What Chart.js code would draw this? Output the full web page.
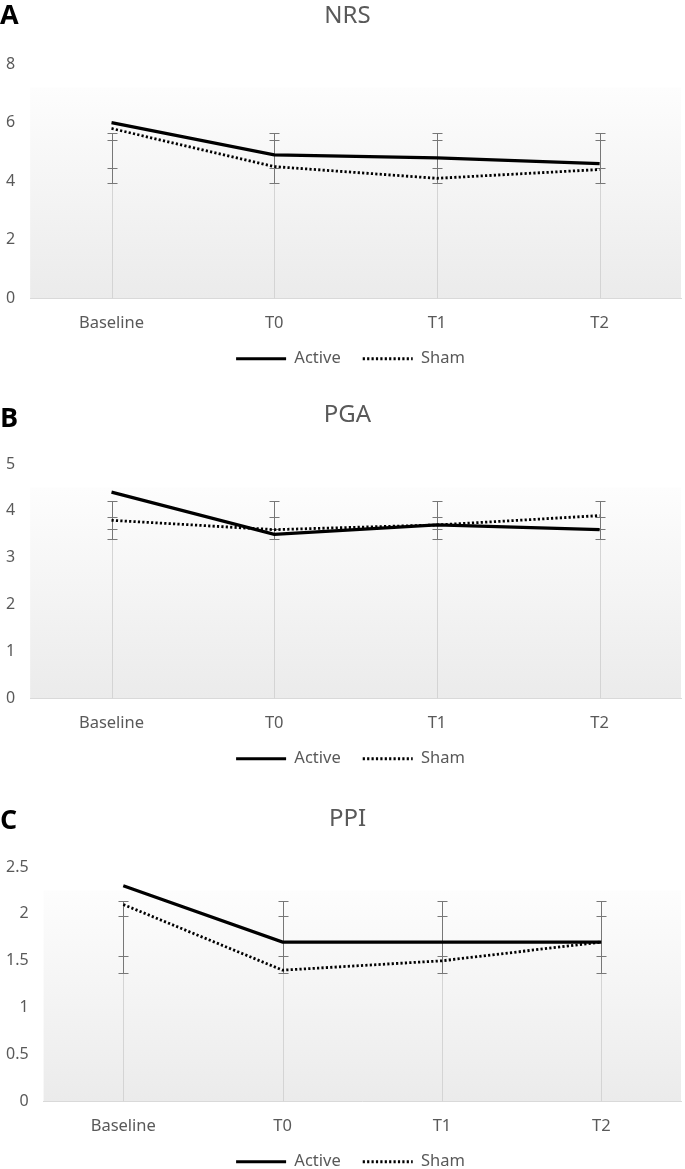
<!DOCTYPE html>
<html>
<head>
<meta charset="utf-8">
<title>NRS / PGA / PPI</title>
<script src="https://cdn.jsdelivr.net/npm/chart.js@4.4.1/dist/chart.umd.min.js"></script>
<style>
    html, body { margin: 0; padding: 0; background: #fff; overflow: hidden; }
    body { position: relative; width: 685px; height: 1169px; }
    .panel { position: absolute; left: 0; width: 685px; height: 381px; }
    .panel canvas { position: absolute; left: 0; top: 0; }
    .letter { position: absolute; left: 0; font: bold 27px "Open Sans", sans-serif; line-height: 1; color: #000; }
    .title { position: absolute; left: 5px; width: 685px; text-align: center; font: 24px "Noto Sans", sans-serif; line-height: 1; color: #595959; }
</style>
</head>
<body>
<div class="panel" style="top:0px">
    <canvas id="nrsChart" width="685" height="381"></canvas>
    <div class="letter" style="top:0px">A</div>
    <div class="title" style="top:2px">NRS</div>
</div>
<div class="panel" style="top:400px">
    <canvas id="pgaChart" width="685" height="381"></canvas>
    <div class="letter" style="top:3px">B</div>
    <div class="title" style="top:1px">PGA</div>
</div>
<div class="panel" style="top:803px">
    <canvas id="ppiChart" width="685" height="381"></canvas>
    <div class="letter" style="top:2px">C</div>
    <div class="title" style="top:2px">PPI</div>
</div>

<script>
// ---- data ----
const categories = ['Baseline', 'T0', 'T1', 'T2'];
const seriesNames = ['Active', 'Sham'];

// NRS
const nrsActive = [6.0, 4.9, 4.8, 4.6];
const nrsSham = [5.8, 4.5, 4.1, 4.4];
const nrsActiveRange = [3.95, 5.63];
const nrsShamRange = [4.44, 5.40];
const nrsTicks = [0, 2, 4, 6, 8];

// PGA
const pgaActive = [4.4, 3.5, 3.7, 3.6];
const pgaSham = [3.8, 3.6, 3.7, 3.9];
const pgaActiveRange = [3.40, 4.21];
const pgaShamRange = [3.62, 3.88];
const pgaTicks = [0, 1, 2, 3, 4, 5];

// PPI
const ppiActive = [2.3, 1.7, 1.7, 1.7];
const ppiSham = [2.1, 1.4, 1.5, 1.7];
const ppiActiveRange = [1.37, 2.14];
const ppiShamRange = [1.55, 1.98];
const ppiTicks = [0, 0.5, 1, 1.5, 2, 2.5];

const textColor = '#595959';
const fontFamily = '"Noto Sans", sans-serif';

// gray gradient behind the plot (starts a bit below the top tick)
const plotBackground = {
    id: 'plotBackground',
    beforeDraw(chart) {
        const {ctx, chartArea: a} = chart;
        const top = a.top + (a.bottom - a.top) * 0.1;
        const g = ctx.createLinearGradient(0, top, 0, a.bottom);
        g.addColorStop(0, '#fdfdfd');
        g.addColorStop(1, '#ebebeb');
        ctx.save();
        ctx.fillStyle = g;
        ctx.fillRect(a.left, top, a.right - a.left, a.bottom - top);
        ctx.restore();
    }
};

// excel-style error bars, same range at every category
const errorBars = {
    id: 'errorBars',
    beforeDatasetsDraw(chart, args, opts) {
        const {ctx, scales: {x, y}} = chart;
        const ranges = opts.ranges || [];
        const lowest = Math.min(...ranges.map(r => r[0]));
        ctx.save();
        ctx.lineWidth = 1;
        chart.data.labels.forEach((label, i) => {
            const px = Math.round(x.getPixelForValue(i)) + 0.5;
            ctx.strokeStyle = '#d4d4d4';
            ctx.beginPath();
            ctx.moveTo(px, y.getPixelForValue(0));
            ctx.lineTo(px, y.getPixelForValue(lowest));
            ctx.stroke();

            ctx.strokeStyle = '#777';
            ranges.forEach(r => {
                const y0 = Math.round(y.getPixelForValue(r[0])) + 0.5;
                const y1 = Math.round(y.getPixelForValue(r[1])) + 0.5;
                ctx.beginPath();
                ctx.moveTo(px, y0);
                ctx.lineTo(px, y1);
                ctx.moveTo(px - 5, y0);
                ctx.lineTo(px + 5, y0);
                ctx.moveTo(px - 5, y1);
                ctx.lineTo(px + 5, y1);
                ctx.stroke();
            });
        });
        ctx.restore();
    }
};

// nudge legend to the right like the original
const legendShift = {
    id: 'legendShift',
    afterLayout(chart, args, opts) {
        if (!chart.legend) return;
        chart.legend.left += opts.dx || 0;
        chart.legend.right += opts.dx || 0;
    }
};

// legend samples should keep the dataset's dash and width
function legendLabels(chart) {
    const items = Chart.defaults.plugins.legend.labels.generateLabels(chart);
    items.forEach(item => {
        const ds = chart.data.datasets[item.datasetIndex];
        item.lineDash = ds.borderDash || [];
        item.lineWidth = ds.borderWidth;
        item.strokeStyle = ds.borderColor;
    });
    return items;
}

function createPanel(canvasId, active, sham, ticks, ranges) {
    const canvas = document.getElementById(canvasId);
    if (!canvas) return null;

    return new Chart(canvas.getContext('2d'), {
        type: 'line',
        data: {
            labels: categories,
            datasets: [{
                label: seriesNames[0],
                data: active,
                borderColor: '#000',
                backgroundColor: '#000',
                borderWidth: 3.2,
                pointRadius: 0,
                tension: 0
            }, {
                label: seriesNames[1],
                data: sham,
                borderColor: '#000',
                backgroundColor: '#000',
                borderWidth: 2.8,
                borderDash: [2.2, 2.2],
                pointRadius: 0,
                tension: 0
            }]
        },
        options: {
            responsive: false,
            animation: false,
            layout: {
                padding: { top: 64, left: 6, right: 4, bottom: 4 }
            },
            scales: {
                x: {
                    offset: true,
                    grid: { display: false, drawTicks: false },
                    border: { display: true, color: '#d9d9d9', width: 1 },
                    ticks: {
                        color: textColor,
                        font: { family: fontFamily, size: 16.5 },
                        padding: 15,
                        maxRotation: 0
                    },
                    afterFit: s => { s.height = 30; }
                },
                y: {
                    min: ticks[0],
                    max: ticks[ticks.length - 1],
                    grid: { display: false, drawTicks: false },
                    border: { display: false },
                    afterBuildTicks: s => { s.ticks = ticks.map(v => ({ value: v })); },
                    afterFit: s => { s.width -= 15; },
                    ticks: {
                        color: textColor,
                        font: { family: fontFamily, size: 16 },
                        padding: 15,
                        callback: v => String(v)
                    }
                }
            },
            plugins: {
                legend: {
                    position: 'bottom',
                    labels: {
                        usePointStyle: true,
                        pointStyle: 'line',
                        pointStyleWidth: 50,
                        boxWidth: 50,
                        padding: 22,
                        color: textColor,
                        font: { family: fontFamily, size: 16.5 },
                        generateLabels: legendLabels
                    }
                },
                tooltip: { enabled: false },
                errorBars: { ranges: ranges },
                legendShift: { dx: 7 }
            }
        },
        plugins: [plotBackground, errorBars, legendShift]
    });
}

createPanel('nrsChart', nrsActive, nrsSham, nrsTicks, [nrsActiveRange, nrsShamRange]);
createPanel('pgaChart', pgaActive, pgaSham, pgaTicks, [pgaActiveRange, pgaShamRange]);
createPanel('ppiChart', ppiActive, ppiSham, ppiTicks, [ppiActiveRange, ppiShamRange]);
</script>
</body>
</html>
